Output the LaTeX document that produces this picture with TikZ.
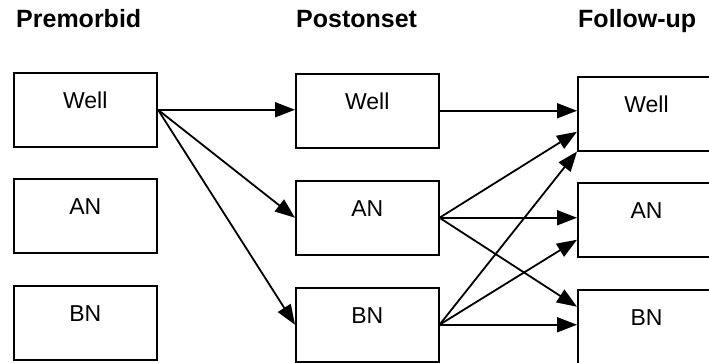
\documentclass[tikz,border=0pt]{standalone}
\usepackage{fontspec}
\setmainfont{Liberation Sans}
\usetikzlibrary{arrows.meta}
\begin{document}
\begin{tikzpicture}[x=1pt,y=-1pt,
  stage/.style={anchor=base west,inner sep=0pt,font=\fontsize{25}{25}\selectfont\bfseries},
  state/.style={draw,line width=2pt,anchor=north west,inner sep=0pt,
    text height=35.5pt,text depth=38pt,align=center,
    font=\fontsize{23}{23}\selectfont},
  flow/.style={line width=1.8pt,-{Triangle[length=20pt,width=15pt]}}]
\useasboundingbox (0,0) rectangle (709,362);

% column headings
\node[stage] (h1) at (16,27) {Premorbid};
\node[stage] (h2) at (296,27) {Postonset};
\node[stage] (h3) at (578,27) {Follow-up};

% premorbid states
\node[state,text width=143.5pt] (w1) at (12.5,72) {Well};
\node[state,text width=143.5pt] (a1) at (12.5,178) {AN};
\node[state,text width=143.5pt] (b1) at (12.5,285) {BN};

% postonset states
\node[state,text width=142.5pt] (w2) at (295,73) {Well};
\node[state,text width=142.5pt] (a2) at (295,180) {AN};
\node[state,text width=142.5pt] (b2) at (295,287) {BN};

% follow-up states
\node[state,text width=137pt] (w3) at (577,76) {Well};
\node[state,text width=137pt] (a3) at (577,182) {AN};
\node[state,text width=137pt] (b3) at (577,289) {BN};

% entry points on the follow-up boxes
\coordinate (w3b) at ([yshift=-18pt]w3.west);
\coordinate (a3b) at ([yshift=-20pt]a3.west);
\coordinate (b3a) at ([yshift=20pt]b3.west);

% premorbid -> postonset
\draw[flow] (w1.east) -- (w1.east -| w2.west);
\draw[flow] (w1.east) -- (a2.west);
\draw[flow] (w1.east) -- (b2.west);

% postonset -> follow-up
\draw[flow] (w2.east) -- (w2.east -| w3.west);
\draw[flow] (a2.east) -- (w3b);
\draw[flow] (a2.east) -- (a2.east -| a3.west);
\draw[flow] (a2.east) -- (b3a);
\draw[flow] (b2.east) -- (w3.south west);
\draw[flow] (b2.east) -- (a3b);
\draw[flow] (b2.east) -- (b2.east -| b3.west);
\end{tikzpicture}
\end{document}
